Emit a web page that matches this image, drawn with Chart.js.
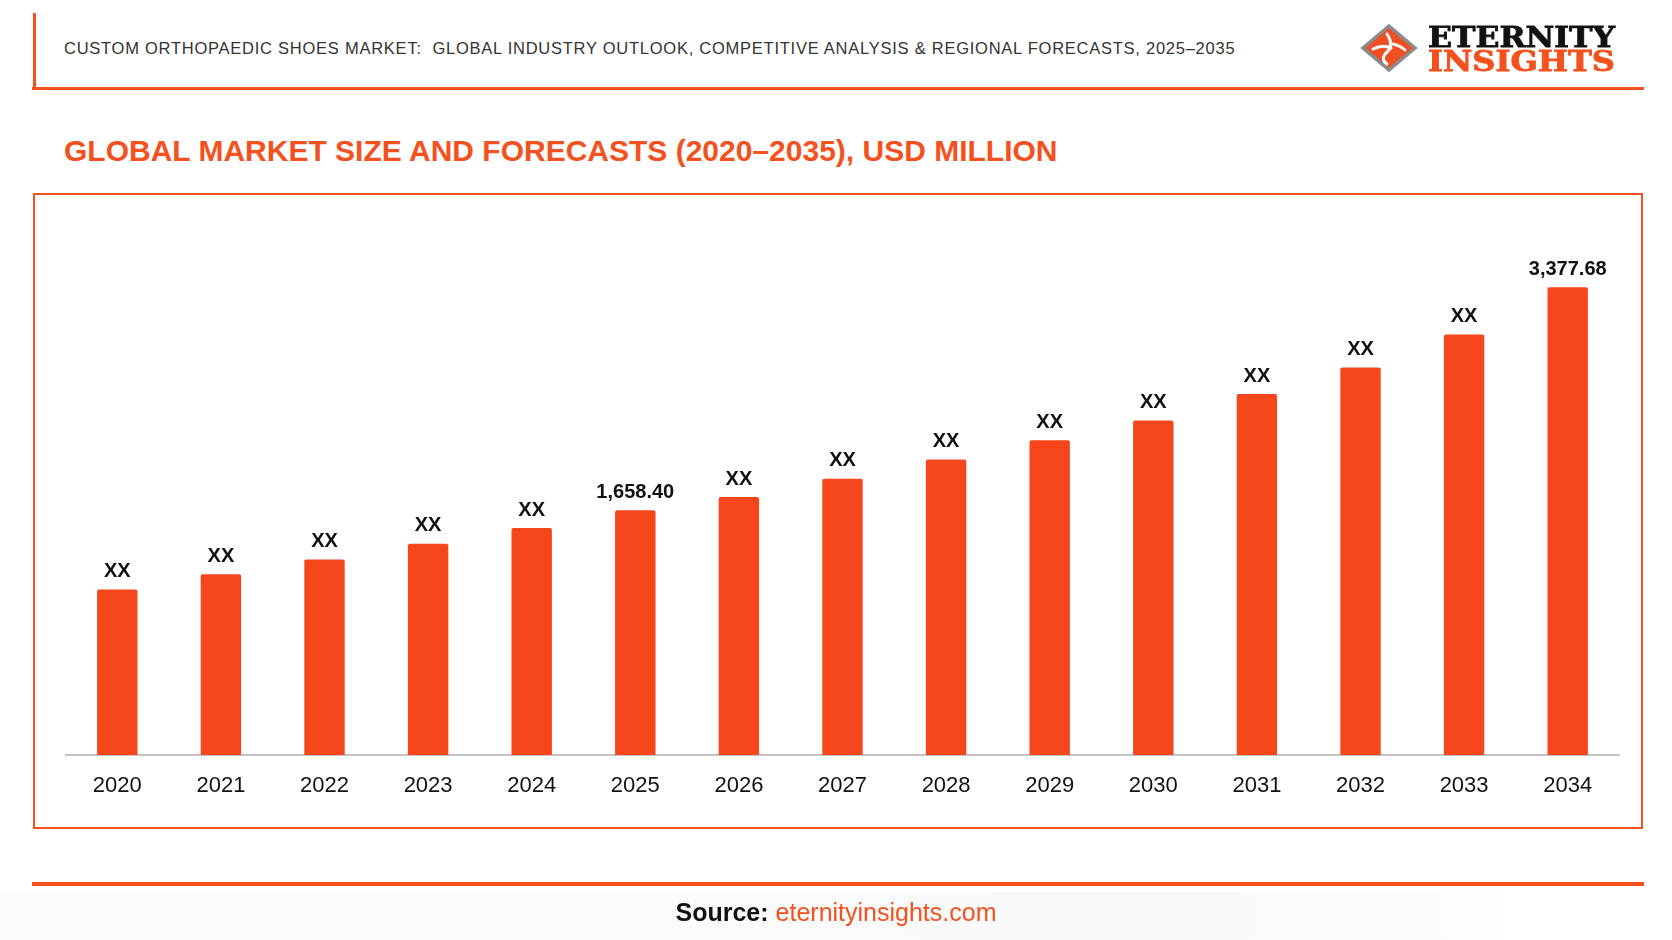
<!DOCTYPE html>
<html><head><meta charset="utf-8">
<script src="https://cdn.jsdelivr.net/npm/chart.js@4.4.1/dist/chart.umd.min.js"></script>
<style>
html,body{margin:0;padding:0;background:#fff;}
body{width:1672px;height:940px;position:relative;overflow:hidden;font-family:"Liberation Sans",Arial,sans-serif;}
.abs{position:absolute;}
</style></head><body>
<div class="abs" style="left:0;top:892px;width:1500px;height:48px;background:linear-gradient(to right,#fcfcfc,#f9f9f9 80%,#fdfdfd)"></div>
<div class="abs" style="left:33px;top:13px;width:3px;height:76px;background:#F4511E"></div>
<div class="abs" style="left:32px;top:87px;width:1612px;height:3px;background:#F4511E"></div>
<div class="abs" style="left:64px;top:38px;font-size:16.5px;letter-spacing:0.75px;color:#333;line-height:20px;white-space:nowrap">CUSTOM ORTHOPAEDIC SHOES MARKET:&nbsp; GLOBAL INDUSTRY OUTLOOK, COMPETITIVE ANALYSIS &amp; REGIONAL FORECASTS, 2025–2035</div>
<canvas id="logo" class="abs" style="left:1355px;top:18px" width="270" height="62"></canvas>
<div class="abs" style="left:64px;top:134px;font-size:30px;font-weight:bold;color:#F4511E;line-height:34px;white-space:nowrap">GLOBAL MARKET SIZE AND FORECASTS (2020–2035), USD MILLION</div>
<div class="abs" style="left:33px;top:193px;width:1606px;height:632px;border:2px solid #F4511E"></div>
<canvas id="chart" class="abs" style="left:0;top:0" width="1672" height="940"></canvas>
<div class="abs" style="left:32px;top:882px;width:1612px;height:4px;background:#F4511E"></div>
<div class="abs" style="left:0;top:898px;width:1672px;text-align:center;font-size:25px;line-height:28px;white-space:nowrap"><span style="font-weight:bold;color:#111">Source:</span> <span style="color:#F4511E">eternityinsights.com</span></div>
<script>
// ---- data ----
const years = ['2020','2021','2022','2023','2024','2025','2026','2027','2028','2029','2030','2031','2032','2033','2034'];
const marketSize = [1047, 1163, 1278, 1399, 1520, 1658.40, 1759, 1900, 2049, 2198, 2350, 2553, 2759, 3013, 3377.68];
const valueLabels = ['XX','XX','XX','XX','XX','1,658.40','XX','XX','XX','XX','XX','XX','XX','XX','3,377.68'];
const axisMin = -230;
const axisMax = 4050;

const ORANGE = '#F4511E';
const BAR = '#F6461C';

// ---- logo ----
(function(){
  const c = document.getElementById('logo');
  const g = c.getContext('2d');
  const cx = 34, cy = 30, hw = 26, hh = 22;
  g.beginPath();
  g.moveTo(cx, cy-hh); g.lineTo(cx+hw, cy); g.lineTo(cx, cy+hh); g.lineTo(cx-hw, cy); g.closePath();
  g.fillStyle = '#F04E23'; g.fill();
  g.lineWidth = 3.5; g.strokeStyle = '#8c8c8c'; g.stroke();
  g.strokeStyle = '#fff'; g.lineWidth = 3; g.lineCap = 'round';
  g.beginPath(); g.moveTo(cx-2, cy-14); g.quadraticCurveTo(cx+6, cy-2, cx-4, cy+6); g.quadraticCurveTo(cx-8, cy+12, cx-2, cy+16); g.stroke();
  g.beginPath(); g.moveTo(cx-16, cy+1); g.quadraticCurveTo(cx-6, cy-4, cx+2, cy); g.stroke();
  g.beginPath(); g.moveTo(cx+4, cy-4); g.quadraticCurveTo(cx+12, cy-2, cx+16, cy+2); g.stroke();
  function fitText(txt, x, base, w, color){
    g.save();
    g.font = 'bold 27px "DejaVu Serif", serif';
    const m = g.measureText(txt).width;
    g.translate(x, base); g.scale(w/m, 1);
    g.fillStyle = color; g.fillText(txt, 0, 0);
    g.lineWidth = 0.8; g.strokeStyle = color; g.strokeText(txt, 0, 0);
    g.restore();
  }
  fitText('ETERNITY', 73, 29, 187, '#111');
  fitText('INSIGHTS', 73, 53, 187, ORANGE);
})();

// ---- chart ----
const valueLabelPlugin = {
  id: 'valueLabels',
  afterDatasetsDraw(chart){
    const ctx = chart.ctx;
    const meta = chart.getDatasetMeta(0);
    ctx.save();
    ctx.font = 'bold 20px "Liberation Sans", Arial, sans-serif';
    ctx.fillStyle = '#111';
    ctx.textAlign = 'center';
    ctx.textBaseline = 'middle';
    meta.data.forEach((bar, i) => ctx.fillText(valueLabels[i], bar.x, bar.y - 18));
    ctx.restore();
  }
};

new Chart(document.getElementById('chart'), {
  type: 'bar',
  data: {
    labels: years,
    datasets: [{
      data: marketSize,
      base: axisMin,
      backgroundColor: BAR,
      borderWidth: 0,
      borderRadius: {topLeft: 2, topRight: 2, bottomLeft: 0, bottomRight: 0},
      borderSkipped: false,
      barPercentage: 0.39,
      categoryPercentage: 1
    }]
  },
  options: {
    responsive: false,
    animation: false,
    devicePixelRatio: 1,
    layout: {padding: {left: 65.5, right: 52.5, top: 200, bottom: 125}},
    plugins: {legend: {display: false}, tooltip: {enabled: false}},
    scales: {
      x: {
        grid: {display: false, drawTicks: false},
        border: {display: true, color: '#c4c4c4', width: 2},
        ticks: {color: '#111', font: {family: '"Liberation Sans", Arial, sans-serif', size: 22}, padding: 18, maxRotation: 0, autoSkip: false},
        afterFit(s){ s.height = 60; }
      },
      y: {display: false, min: axisMin, max: axisMax}
    }
  },
  plugins: [valueLabelPlugin]
});
</script>
</body></html>
